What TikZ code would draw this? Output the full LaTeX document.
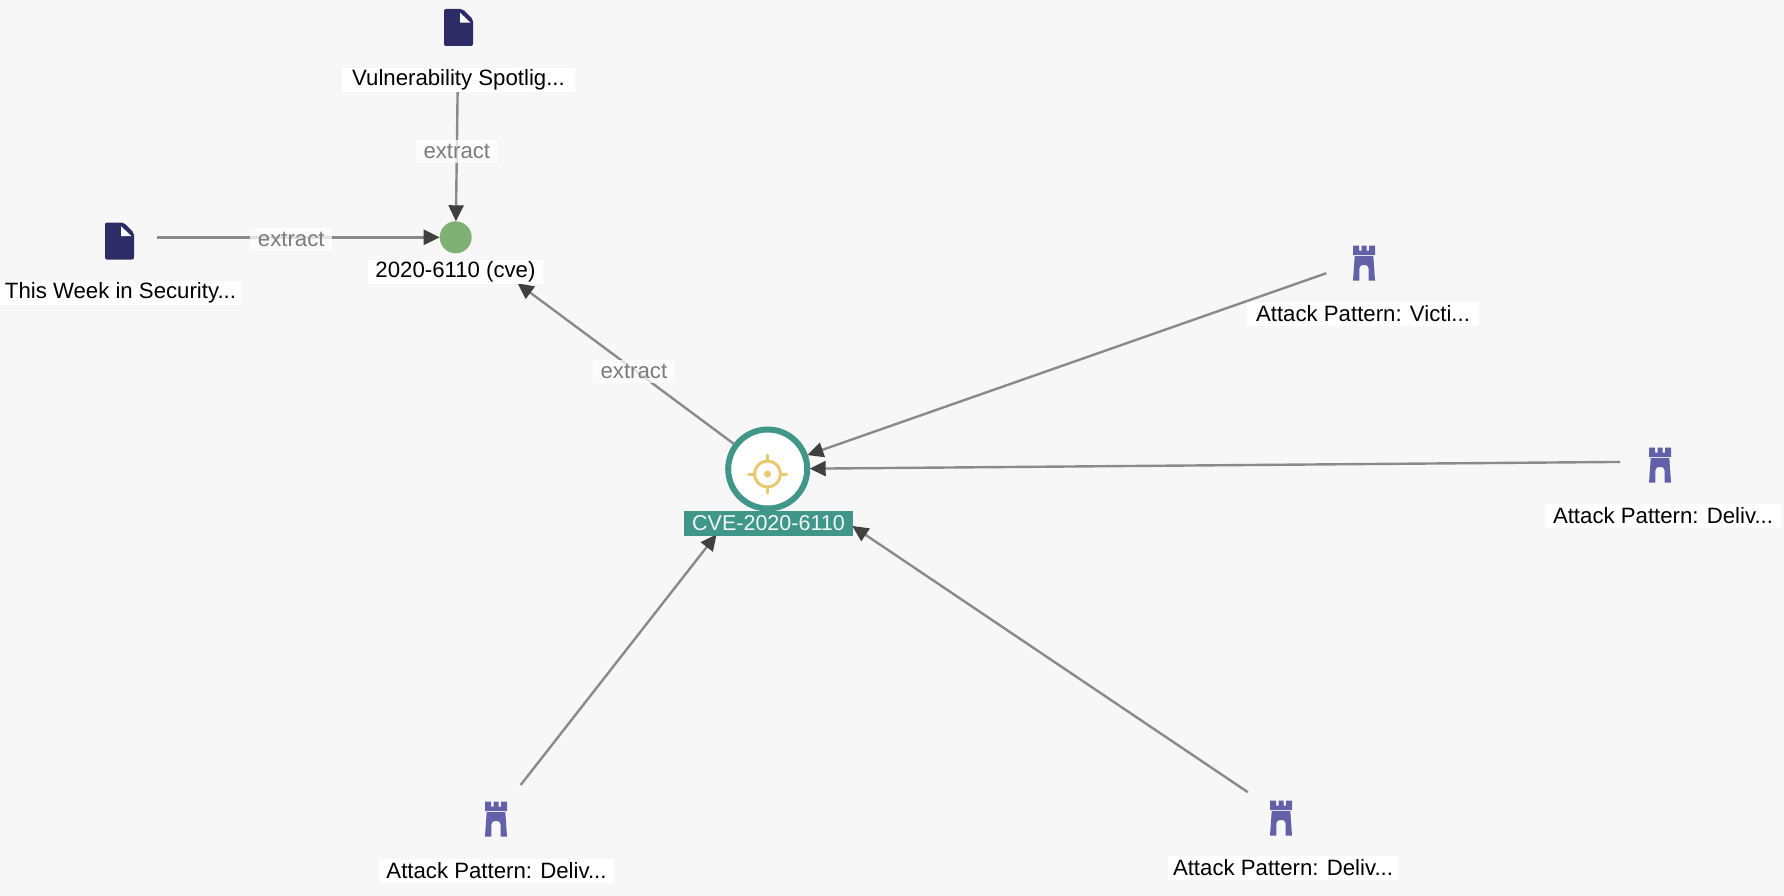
\documentclass[tikz,border=0pt]{standalone}
\usepackage{fontspec}
\setmainfont{Liberation Sans}
\usetikzlibrary{arrows.meta}
\definecolor{bgc}{HTML}{F7F7F7}
\definecolor{docc}{HTML}{2D2C66}
\definecolor{castlec}{HTML}{6260A8}
\definecolor{teal}{HTML}{41968A}
\definecolor{gold}{HTML}{E8C96F}
\definecolor{greenc}{HTML}{7FB174}
\definecolor{linec}{HTML}{8A8A8A}
\definecolor{tipc}{HTML}{404040}
\definecolor{edgetext}{HTML}{7C7C7C}
\tikzset{
  x=1pt,y=-1pt,
  hub/.style={circle,inner sep=0,minimum size=80,outer sep=0},
  dotnode/.style={circle,inner sep=0,minimum size=32,fill=greenc,outer sep=0},
  ringnode/.style={circle,inner sep=0,minimum size=79,draw=teal,line width=6,fill=white,outer sep=2.5},
  conn/.style={draw=linec,line width=2.4,-{Triangle[length=16,width=15,color=tipc]}},
  lab/.style={fill=white,text=black,inner sep=0,minimum height=24,font=\fontsize{22.2}{24}\selectfont},
  tag/.style={fill=teal,text=white!92!teal,inner sep=0,minimum height=25,minimum width=169,font=\fontsize{21.5}{24}\selectfont},
  edgelab/.style={fill=white,fill opacity=.75,text opacity=1,text=edgetext,inner sep=0,minimum height=23,minimum width=82,yshift=-2pt,font=\fontsize{22.2}{24}\selectfont},
  docicon/.pic={
    \fill[docc,rounded corners=2] (-14.5,-18.5) -- (4,-18.5) -- (14.5,-8) -- (14.5,18.5) -- (-14.5,18.5) -- cycle;
    \fill[white] (1.5,-14.8) -- (12,-4.8) -- (1.5,-4.8) -- cycle;
  },
  castleicon/.pic={
    \fill[castlec] (-11,-17.5) -- (-5,-17.5) -- (-5,-12.5) -- (-2.5,-12.5) -- (-2.5,-17.5) -- (2.5,-17.5) -- (2.5,-12.5) -- (5,-12.5) -- (5,-17.5) -- (11,-17.5) -- (11,-8) -- (-11,-8) -- cycle;
    \fill[castlec] (-9.3,-6.8) -- (9.3,-6.8) -- (11,17.5) -- (4.7,17.5) -- (4.7,5.5) .. controls (4.7,3) and (2.5,1.8) .. (0,1.8) .. controls (-2.5,1.8) and (-4.7,3) .. (-4.7,5.5) -- (-4.7,17.5) -- (-11,17.5) -- cycle;
  },
  crosshair/.pic={
    \draw[gold,line width=3] (0,0) circle[radius=13];
    \fill[gold] (0,0) circle[radius=3.5];
    \draw[gold,line width=3,line cap=round] (-19,0) -- (-13,0) (13,0) -- (19,0) (0,-19) -- (0,-13) (0,13) -- (0,19);
  },
}
\begin{document}
\begin{tikzpicture}
\useasboundingbox (0,0) rectangle (1784,896);
\fill[bgc] (0,0) rectangle (1784,896);

% hubs
\node[hub] (vuln) at (458.5,24) {};
\node[hub] (week) at (117,237.3) {};
\node[dotnode] (cve) at (455.7,237.3) {};
\node[ringnode] (ring) at (767.7,469) {};
\node[hub] (victi) at (1364,260) {};
\node[hub] (rightap) at (1660,461.6) {};
\node[hub] (lowleft) at (496,816.5) {};
\node[hub] (lowright) at (1281,814.5) {};

% icons
\pic at (458.5,27.5) {docicon};
\pic at (119.5,241) {docicon};
\pic at (767.5,474) {crosshair};
\pic at (1364,263) {castleicon};
\pic at (1660,465) {castleicon};
\pic at (496,819) {castleicon};
\pic at (1281,818) {castleicon};

% connectors
\path[conn,shorten <=10] (vuln) -- node[edgelab,pos=.545] (e1) {extract} (cve);
\path[conn] (week) -- node[edgelab,pos=.475] (e2) {extract} (cve);
\path[conn,shorten >=61] (ring) -- node[edgelab,pos=.377] (e3) {extract} (cve);
\path[conn] (victi) -- (ring);
\path[conn] (rightap) -- (ring);
\path[conn,shorten >=60] (lowright) -- (ring);
\path[conn,shorten >=41] (lowleft) -- (ring);

% labels
\node[lab,minimum width=233] (lvuln) at (458.5,80) {Vulnerability Spotlig...};
\node[lab,minimum width=241] (lweek) at (120.5,293) {This Week in Security...};
\node[lab,minimum width=175] (lcve) at (455.5,272) {2020-6110 (cve)};
\node[tag] (lring) at (768.5,523.5) {CVE-2020-6110};
\node[lab,minimum width=232] (lvicti) at (1363,313.5) {Attack Pattern: Victi...};
\node[lab,minimum width=236] (lright) at (1663,516) {Attack Pattern: Deliv...};
\node[lab,minimum width=235] (lll) at (496.5,870.5) {Attack Pattern: Deliv...};
\node[lab,minimum width=230] (llr) at (1283,867.5) {Attack Pattern: Deliv...};
\end{tikzpicture}
\end{document}
